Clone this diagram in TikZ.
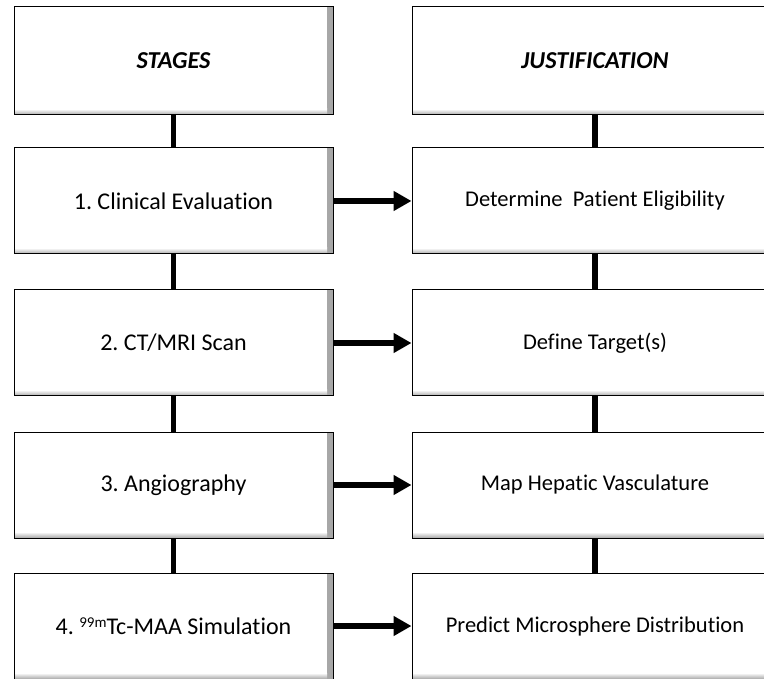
\documentclass[tikz,border=0pt]{standalone}
\usepackage{fontspec}
\setmainfont{Carlito}[Ligatures=NoCommon]
\frenchspacing
\usetikzlibrary{arrows.meta}
\newcommand{\isotope}[1]{\raisebox{0.3em}{\fontsize{15}{15}\selectfont #1}}
\tikzset{
  card/.style={draw=black,line width=1pt,fill=white,inner sep=0pt,minimum height=106pt,
    path picture={
      \shade[left color=white,right color=gray!70] ([xshift=-6pt]path picture bounding box.north east) rectangle (path picture bounding box.south east);
      \shade[top color=white,bottom color=gray!70] ([yshift=6pt]path picture bounding box.south west) rectangle ([xshift=-6pt]path picture bounding box.south east);
    }},
  stagebox/.style={card,minimum width=319pt,font=\fontsize{24}{28}\selectfont},
  whybox/.style={card,minimum width=366pt,font=\fontsize{22.5}{27}\selectfont},
  head/.style={font=\fontsize{24.3}{28}\selectfont\bfseries\itshape},
  link/.style={line width=5.5pt},
  feed/.style={line width=6pt,-{Triangle[length=18pt,width=19pt]}},
}
\begin{document}
\begin{tikzpicture}[x=1pt,y=1pt]
\useasboundingbox (0,0) rectangle (764,-679);
% left column
\node[stagebox,minimum height=108pt,head] (s0) at (173.5,-61) {STAGES};
\node[stagebox] (s1) at (173.5,-201) {1. Clinical Evaluation};
\node[stagebox] (s2) at (173.5,-343) {2. CT/MRI Scan};
\node[stagebox] (s3) at (173.5,-485) {3. Angiography};
\node[stagebox] (s4) at (173.5,-626) {4. \isotope{99m}Tc-MAA Simulation};
% right column
\node[whybox,minimum height=108pt,head] (j0) at (595,-61) {JUSTIFICATION};
\node[whybox] (j1) at (595,-201) {Determine\ \ Patient Eligibility};
\node[whybox] (j2) at (595,-343) {Define Target(s)};
\node[whybox] (j3) at (595,-485) {Map Hepatic Vasculature};
\node[whybox] (j4) at (595,-626) {Predict Microsphere Distribution};
% connectors
\draw[link] (s0)--(s1) (s1)--(s2) (s2)--(s3) (s3)--(s4);
\draw[link] (j0)--(j1) (j1)--(j2) (j2)--(j3) (j3)--(j4);
\draw[feed] (s1)--(j1);
\draw[feed] (s2)--(j2);
\draw[feed] (s3)--(j3);
\draw[feed] (s4)--(j4);
\end{tikzpicture}
\end{document}
